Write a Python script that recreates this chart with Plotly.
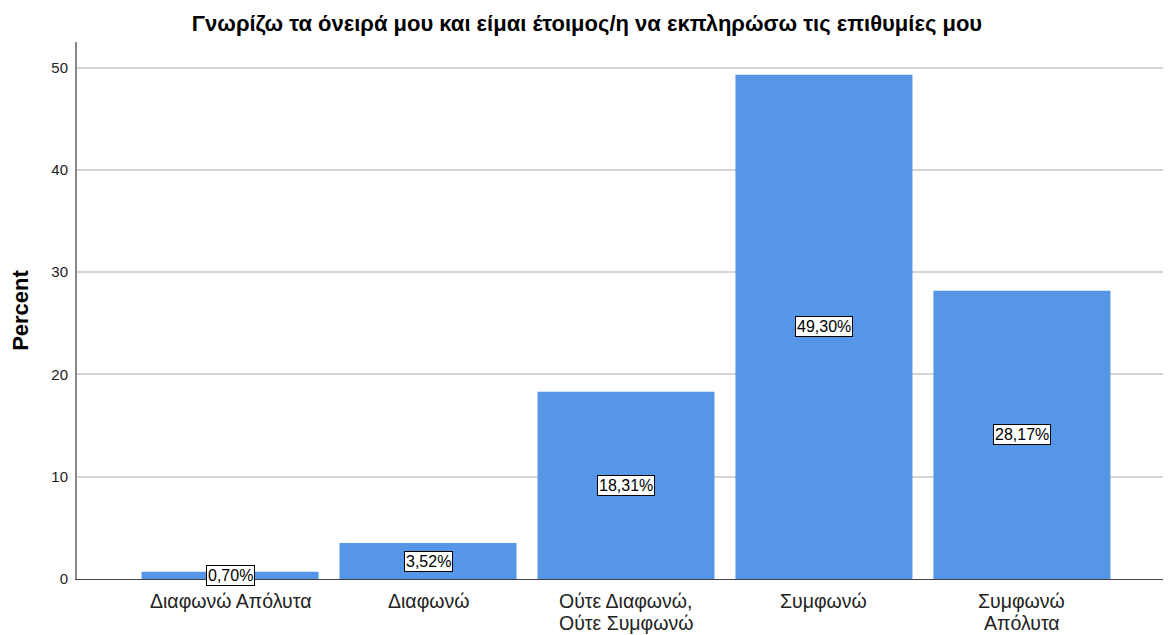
import plotly.graph_objects as go

categories = [["Διαφωνώ Απόλυτα"], ["Διαφωνώ"], ["Ούτε Διαφωνώ,", "Ούτε Συμφωνώ"], ["Συμφωνώ"], ["Συμφωνώ", "Απόλυτα"]]
percent = [0.70, 3.52, 18.31, 49.30, 28.17]
y_ticks = [0, 10, 20, 30, 40, 50]
title_text = "Γνωρίζω τα όνειρά μου και είμαι έτοιμος/η να εκπληρώσω τις επιθυμίες μου"

FONT = "Liberation Sans, Arial, sans-serif"
OFF = 8  # default page body margin
W, H = 1171 - OFF, 635 - OFF

fig = go.Figure()
fig.add_trace(go.Bar(
    x=list(range(len(categories))),
    y=percent,
    width=0.894,
    marker=dict(color="#5596E6", line=dict(width=0)),
    hoverinfo="skip",
))

for i, v in enumerate(percent):
    fig.add_annotation(
        x=i, y=v / 2, xref="x", yref="y",
        text=f"{v:.2f}%".replace(".", ","),
        showarrow=False,
        font=dict(family=FONT, size=16, color="black"),
        bgcolor="white", bordercolor="black", borderwidth=1, borderpad=1,
    )

# category labels (tight line spacing as in the reference)
for i, lines in enumerate(categories):
    for j, line in enumerate(lines):
        fig.add_annotation(
            x=i, y=0, xref="x", yref="y",
            text=line, showarrow=False,
            xanchor="center", yanchor="middle",
            borderpad=0,
            yshift=-(22 + 22 * j),
            font=dict(family=FONT, size=19.5, color="#222222"),
        )

fig.update_layout(
    width=W, height=H,
    margin=dict(l=77 - OFF, r=0, t=42 - OFF, b=56, autoexpand=False),
    plot_bgcolor="white", paper_bgcolor="white",
    showlegend=False,
    title=dict(
        text=f"<b>{title_text}</b>",
        x=(587 - OFF) / W, xanchor="center", xref="container",
        y=1 - (23 - OFF) / H, yanchor="middle", yref="container",
        font=dict(family=FONT, size=22, color="black"),
    ),
    xaxis=dict(
        tickmode="array",
        tickvals=list(range(len(categories))),
        ticktext=[""] * len(categories),
        range=[-0.773, 4.753],
        showgrid=False, zeroline=False,
        showline=True, linecolor="#444444", linewidth=1,
        ticks="",
    ),
    yaxis=dict(
        range=[0, 52.5],
        tickmode="array", tickvals=y_ticks,
        showgrid=True, gridcolor="#D4D4D4", gridwidth=2,
        zeroline=False,
        showline=True, linecolor="#888888", linewidth=2,
        ticks="", ticklabelstandoff=4,
        tickfont=dict(family=FONT, size=15, color="#222222"),
        title=dict(text="<b>Percent</b>", font=dict(family=FONT, size=22, color="black"), standoff=25),
    ),
)

fig.write_html("out.html")
